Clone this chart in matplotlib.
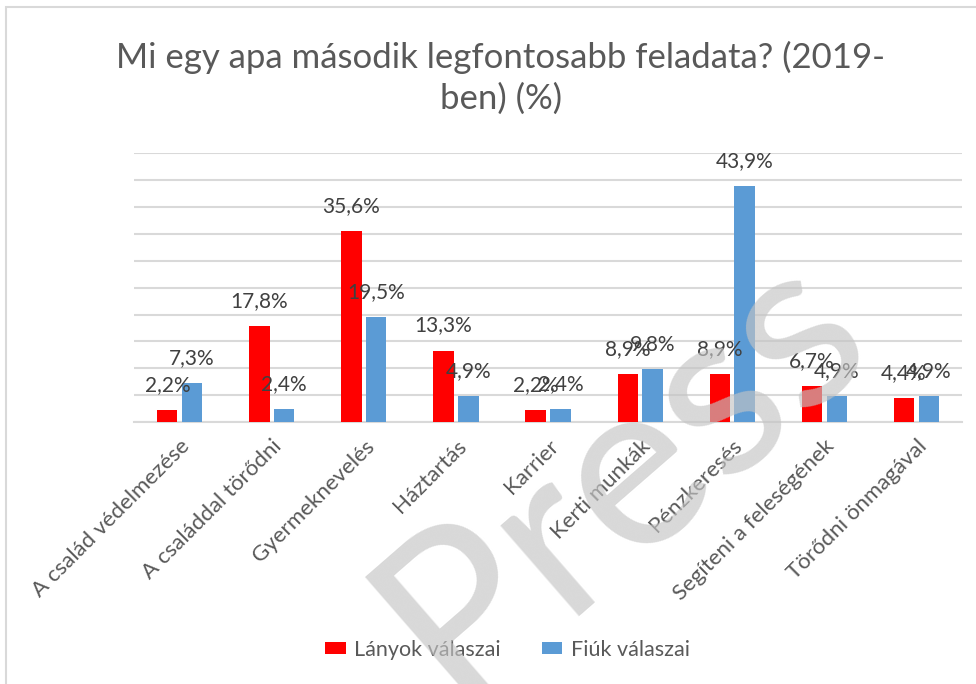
import matplotlib.pyplot as plt
from matplotlib.patches import Rectangle
import numpy as np

plt.rcParams['font.family'] = ['Lato', 'DejaVu Sans']

categories = ["A család védelmezése", "A családdal törődni", "Gyermeknevelés",
              "Háztartás", "Karrier", "Kerti munkák", "Pénzkeresés",
              "Segíteni a feleségének", "Törődni önmagával"]
lanyok = [2.2, 17.8, 35.6, 13.3, 2.2, 8.9, 8.9, 6.7, 4.4]
fiuk = [7.3, 2.4, 19.5, 4.9, 2.4, 9.8, 43.9, 4.9, 4.9]
series_names = ["Lányok válaszai", "Fiúk válaszai"]
colors = ["#FF0000", "#5B9BD5"]

fig = plt.figure(figsize=(9.76, 6.84), dpi=100)
ax = fig.add_axes([0.137, 0.383, 0.849, 0.393])

x = np.arange(len(categories))
w = 0.22
off = 0.135
for vals, sign, name, col in [(lanyok, -1, series_names[0], colors[0]),
                              (fiuk, 1, series_names[1], colors[1])]:
    bars = ax.bar(x + sign * off, vals, w, color=col, label=name, zorder=3)
    for b, v in zip(bars, vals):
        ax.annotate(f"{v:.1f}%".replace(".", ","),
                    (b.get_x() + b.get_width() / 2, v),
                    xytext=(0, 18), textcoords="offset points",
                    ha="center", va="center", fontsize=15, color="#404040",
                    zorder=4)

ax.set_xlim(-0.5, len(categories) - 0.5)
ax.set_ylim(0, 50)
ax.set_yticks(np.arange(0, 51, 5))
ax.yaxis.grid(True, color="#d9d9d9", linewidth=1.5, zorder=0)
ax.tick_params(axis="y", left=False, labelleft=False)
ax.tick_params(axis="x", length=0, pad=10)
for s in ["top", "right", "left"]:
    ax.spines[s].set_visible(False)
ax.spines["bottom"].set_color("#d9d9d9")
ax.spines["bottom"].set_linewidth(1.5)
ax.set_xticks(x)
ax.set_xticklabels(categories, rotation=45, ha="right", va="top",
                   rotation_mode="anchor", fontsize=16, color="#595959")

fig.text(0.513, 0.886, "Mi egy apa második legfontosabb feladata? (2019-\nben) (%)",
         ha="center", va="center", fontsize=25, color="#595959",
         linespacing=1.3)

fig.legend(loc="center", bbox_to_anchor=(0.52, 0.05), ncol=2, frameon=False,
           fontsize=15.5, handlelength=0.95, handleheight=0.45, handletextpad=0.4,
           columnspacing=1.9, labelcolor="#595959")

fig.patches.append(Rectangle((0.006, -0.02), 1.1, 1.01,
                             transform=fig.transFigure, fill=False,
                             edgecolor="#d9d9d9", linewidth=1.5))

fig.text(455 / 976, 1 - 705 / 684, "Press", rotation=41, rotation_mode="anchor",
         ha="left", va="baseline", fontsize=170,
         color="#c4c4c4", alpha=0.65, zorder=10)

fig.savefig("out.png", dpi=100)
